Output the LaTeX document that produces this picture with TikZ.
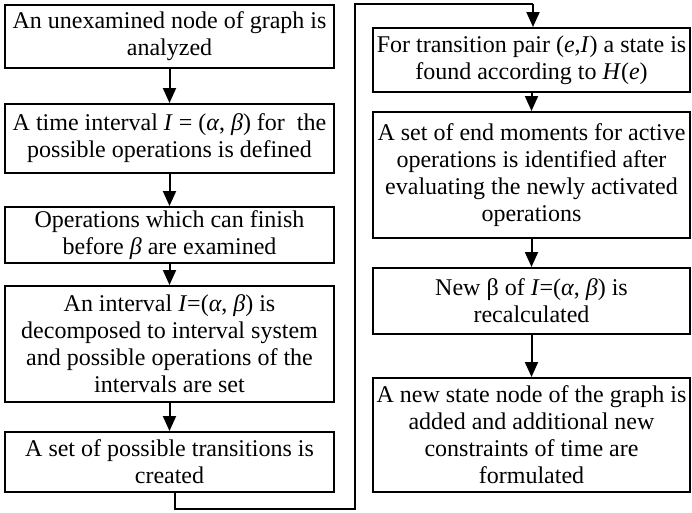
\documentclass[tikz,border=0pt]{standalone}
\usepackage{fontspec}
\setmainfont{Liberation Serif}
\usetikzlibrary{arrows.meta}

\tikzset{
  stepbox/.style={draw, line width=2pt, inner sep=0pt, align=center,
    font=\fontsize{24pt}{27pt}\selectfont},
  leftbox/.style={stepbox, minimum width=329pt},
  rightbox/.style={stepbox, minimum width=317pt},
  flow/.style={line width=2pt, -{Triangle[length=15pt,width=13pt]}},
  link/.style={line width=1.7pt}
}

\begin{document}
\begin{tikzpicture}[x=1pt,y=-1pt]
\useasboundingbox (0,0) rectangle (692,512);

% left column
\node[leftbox, minimum height=63pt] (l1) at (169.5,36.5)
  {An unexamined node of graph is\\ analyzed};
\node[leftbox, minimum height=69pt] (l2) at (169.5,138.5)
  {A time interval \textit{I} = (\textit{α}, \textit{β}) for~ the\\ possible operations is defined};
\node[leftbox, minimum height=56pt] (l3) at (169.5,235)
  {Operations which can finish\\ before \textit{β} are examined};
\node[leftbox, minimum height=116pt] (l4) at (169.5,344)
  {An interval \textit{I}=(\textit{α}, \textit{β}) is\\ decomposed to interval system\\ and possible operations of the\\ intervals are set};
\node[leftbox, minimum height=60pt] (l5) at (169.5,462)
  {A set of possible transitions is\\ created};

% right column
\node[rightbox, minimum height=64pt] (r1) at (531.5,60)
  {For transition pair (\textit{e,I}) a state is\\ found according to \textit{H}(\textit{e})};
\node[rightbox, minimum height=126pt] (r2) at (531.5,175)
  {A set of end moments for active\\ operations is identified after\\ evaluating the newly activated\\ operations};
\node[rightbox, minimum height=66pt] (r3) at (531.5,301)
  {New β of \textit{I}=(\textit{α}, \textit{β}) is\\ recalculated};
\node[rightbox, minimum height=114pt] (r4) at (531.5,435)
  {A new state node of the graph is\\ added and additional new\\ constraints of time are\\ formulated};

% arrows within the columns
\draw[flow] (l1) -- (l2);
\draw[flow] (l2) -- (l3);
\draw[flow] (l3) -- (l4);
\draw[flow] (l4) -- (l5);
\draw[flow] (r1) -- (r2);
\draw[flow] (r2) -- (r3);
\draw[flow] (r3) -- (r4);

% connector from the last left step to the first right step
\coordinate (c1) at (175,509);
\coordinate (c2) at (355,509);
\coordinate (c3) at (355,4);
\coordinate (c4) at (533,4);
\draw[link] (l5.south -| c1) -- (c1) -- (c2) -- (c3) -- (c4);
\draw[flow] (c4) -- (r1.north -| c4);
\end{tikzpicture}
\end{document}
